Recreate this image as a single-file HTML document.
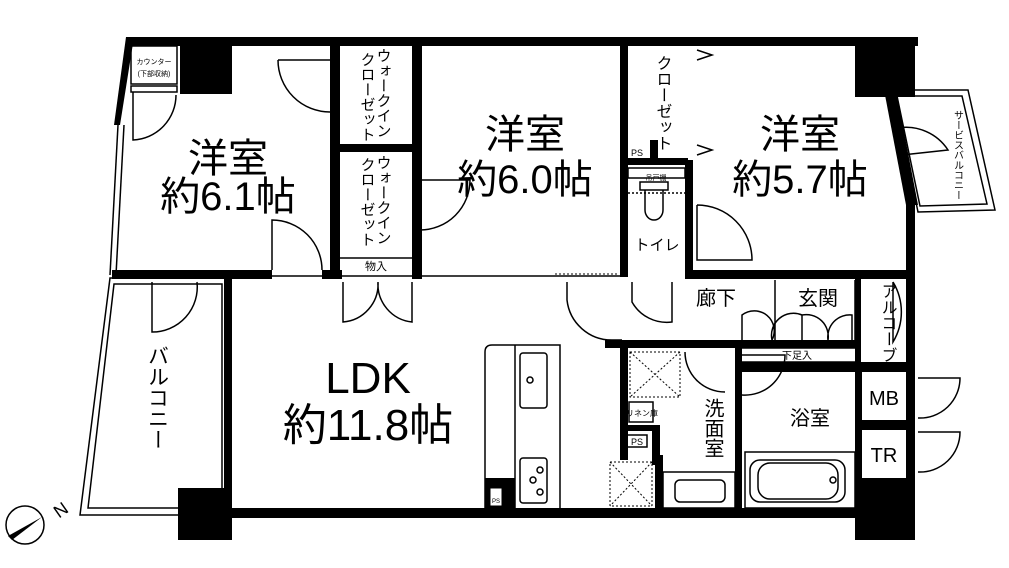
<!DOCTYPE html>
<html><head><meta charset="utf-8"><style>
html,body{margin:0;padding:0;background:#fff;}
svg{display:block;font-family:"Liberation Sans","Noto Sans CJK JP",sans-serif;}
.v{writing-mode:tb;glyph-orientation-vertical:0;}
</style></head><body>
<svg width="1009" height="568" viewBox="0 0 1009 568" xmlns="http://www.w3.org/2000/svg">
<g fill="none" stroke="#000" stroke-width="1.5">
<polygon points="893,90 968,90 995,210 918,212"/>
<polygon points="897,96 962,96 987,204 920,206"/>
<polygon points="110,278 226,278 226,515 80,515"/>
<polygon points="114,284 222,284 222,508 88,508"/>
<line x1="118" y1="125" x2="110" y2="275"/><line x1="124" y1="125" x2="116" y2="275"/>
<rect x="240" y="39" width="78" height="5"/><rect x="455" y="39" width="125" height="5"/><rect x="740" y="39" width="80" height="5"/>
<rect x="225" y="330" width="6" height="120"/>
<rect x="131" y="46" width="46" height="38"/><rect x="131" y="86" width="46" height="6"/>
<path d="M133,92 V140 A45,45 0 0 0 176,95"/>
<path d="M278,60 H330 M278,60 A52,52 0 0 0 330,112"/>
<path d="M272,270 V220 A50,50 0 0 1 322,270"/>
<path d="M422,180 H470 A50,50 0 0 1 420,230"/>
<path d="M152,282 V332 A45,45 0 0 0 197,282"/>
<path d="M343,282 V322 A38,38 0 0 0 378,282 M412,282 V322 A38,38 0 0 1 378,282"/>
<path d="M567,282 V300 A45,45 0 0 0 612,340 H622"/>
<path d="M632,282 V302 A40,40 0 0 0 672,322 V282"/>
<path d="M697,205 V260 H752 A55,55 0 0 0 697,205"/>
<path d="M685,352 A40,40 0 0 0 725,392"/>
<path d="M742,355 H785 A40,40 0 0 1 742,395"/>
<path d="M742,340 V315 A20,20 0 0 1 772,340 M802,340 V315 A22,22 0 0 0 772,340 M802,340 V315 A22,22 0 0 1 828,340 M852,340 V315 A22,22 0 0 0 828,340"/>
<path d="M893,282 V342 A58,58 0 0 0 893,282"/>
<path d="M902,155 L948,150 A50,50 0 0 0 898,128"/>
<path d="M918,378 H960 A40,40 0 0 1 918,418"/>
<path d="M918,432 H960 A40,40 0 0 1 918,472"/>
<path d="M697,50 L712,55 L697,60 M697,145 L712,150 L697,155"/>
<path d="M485,508 V352 Q485,345 492,345 H560 V508"/><line x1="515" y1="345" x2="515" y2="508"/>
<rect x="520" y="353" width="27" height="55" rx="3"/><circle cx="530" cy="380" r="3"/>
<rect x="520" y="458" width="27" height="45" rx="3"/><circle cx="540" cy="470" r="3"/><circle cx="533" cy="480" r="3"/><circle cx="540" cy="492" r="3"/>
<rect x="745" y="452" width="110" height="56"/><rect x="750" y="460" width="95" height="42" rx="10"/><rect x="758" y="463" width="80" height="36" rx="12"/><circle cx="833" cy="480" r="3"/>
<rect x="663" y="472" width="72" height="36"/><rect x="675" y="480" width="50" height="22" rx="5"/>
<path d="M645,190 V210 A9,10 0 0 0 663,210 V190 M640,182 H668 V190 H640 Z"/>
<rect x="628" y="168" width="57" height="10"/>
<line x1="628" y1="193" x2="685" y2="193" stroke-dasharray="2,2"/>
<g stroke-dasharray="2,2" stroke-width="1"><rect x="630" y="352" width="50" height="45"/><path d="M630,352 L680,397 M680,352 L630,397"/>
<rect x="610" y="462" width="42" height="44"/><path d="M610,462 L652,506 M652,462 L610,506"/>
<line x1="555" y1="274" x2="618" y2="274"/></g>
<rect x="629" y="402" width="24" height="20"/><rect x="627" y="435" width="20" height="12"/>
<rect x="490" y="490" width="12" height="18"/>
<line x1="340" y1="258" x2="412" y2="258"/><line x1="740" y1="348" x2="855" y2="348"/><line x1="740" y1="362" x2="855" y2="362"/>
<line x1="775" y1="280" x2="775" y2="340"/><line x1="855" y1="280" x2="855" y2="340"/>
<line x1="232" y1="276" x2="620" y2="276"/>
</g>
<g fill="#000">
<rect x="128" y="37" width="790" height="9"/>
<polygon points="126,37 134,37 120,125 114,125"/>
<rect x="180" y="42" width="52" height="52"/>
<rect x="330" y="37" width="10" height="240"/>
<rect x="412" y="37" width="10" height="240"/>
<rect x="340" y="144" width="72" height="8"/>
<rect x="620" y="37" width="8" height="240"/>
<rect x="685" y="160" width="8" height="118"/>
<rect x="628" y="158" width="60" height="7"/>
<rect x="650" y="140" width="8" height="22"/>
<rect x="855" y="37" width="60" height="60"/>
<polygon points="885,95 897,95 918,205 906,205"/>
<rect x="906" y="200" width="9" height="340"/>
<rect x="112" y="270" width="120" height="9"/>
<rect x="232" y="270" width="40" height="9"/><rect x="322" y="270" width="20" height="9"/><rect x="412" y="270" width="10" height="9"/>
<rect x="685" y="270" width="225" height="9"/>
<rect x="224" y="279" width="8" height="212"/>
<rect x="178" y="488" width="54" height="52"/>
<rect x="178" y="508" width="737" height="10"/>
<rect x="855" y="478" width="60" height="62"/>
<rect x="605" y="340" width="250" height="8"/>
<rect x="620" y="345" width="8" height="115"/>
<rect x="652" y="425" width="8" height="40"/>
<rect x="620" y="425" width="40" height="6"/>
<rect x="655" y="455" width="8" height="55"/>
<rect x="735" y="345" width="7" height="165"/>
<rect x="735" y="362" width="175" height="10"/>
<rect x="855" y="370" width="7" height="110"/>
<rect x="855" y="420" width="55" height="10"/>
<rect x="855" y="275" width="6" height="95"/>
<rect x="485" y="478" width="30" height="30"/>
</g>
<rect x="490" y="488" width="12" height="18" fill="#fff" stroke="#000"/>
<circle cx="25" cy="525" r="19" fill="none" stroke="#000" stroke-width="1.5"/>
<polygon points="42,517 8,536 12,540" fill="#000"/>
<text x="55" y="520" font-size="18" transform="rotate(-35 55 513)">N</text>
<g font-size="40" text-anchor="middle">
<text x="228" y="172">洋室</text><text x="228" y="210">約6.1帖</text>
<text x="525" y="148">洋室</text><text x="525" y="193">約6.0帖</text>
<text x="800" y="148">洋室</text><text x="800" y="193">約5.7帖</text>
<text x="368" y="393" font-size="44">LDK</text><text x="368" y="440" font-size="44">約11.8帖</text>
</g>
<g font-size="20" text-anchor="middle">
<text x="716" y="305">廊下</text><text x="818" y="305">玄関</text><text x="810" y="425">浴室</text>
<text x="884" y="405">MB</text><text x="884" y="462">TR</text>
</g>
<g font-size="15" class="v">
<text x="383" y="48">ウォークイン</text><text x="367" y="52">クローゼット</text>
<text x="383" y="155">ウォークイン</text><text x="367" y="157">クローゼット</text>
<text x="662" y="55" font-size="16">クローゼット</text>
<text x="712" y="398" font-size="20">洗面室</text>
<text x="887" y="283" font-size="16">アルコーブ</text>
<text x="157" y="345" font-size="21">バルコニー</text>
<text x="957" y="110" font-size="10">サービスバルコニー</text>
</g>
<g font-size="12" text-anchor="middle">
<text x="376" y="270" font-size="11">物入</text>
<text x="657" y="250" font-size="15">トイレ</text>
<text x="797" y="359" font-size="10">下足入</text>
<text x="642" y="416" font-size="8">リネン庫</text>
<text x="637" y="445" font-size="9">PS</text>
<text x="637" y="156" font-size="9">PS</text>
<text x="656" y="180" font-size="7">吊戸棚</text>
<text x="154" y="64" font-size="7">カウンター</text>
<text x="154" y="76" font-size="7">(下部収納)</text>
<text x="496" y="503" font-size="6">PS</text>
</g>
</svg>
</body></html>
